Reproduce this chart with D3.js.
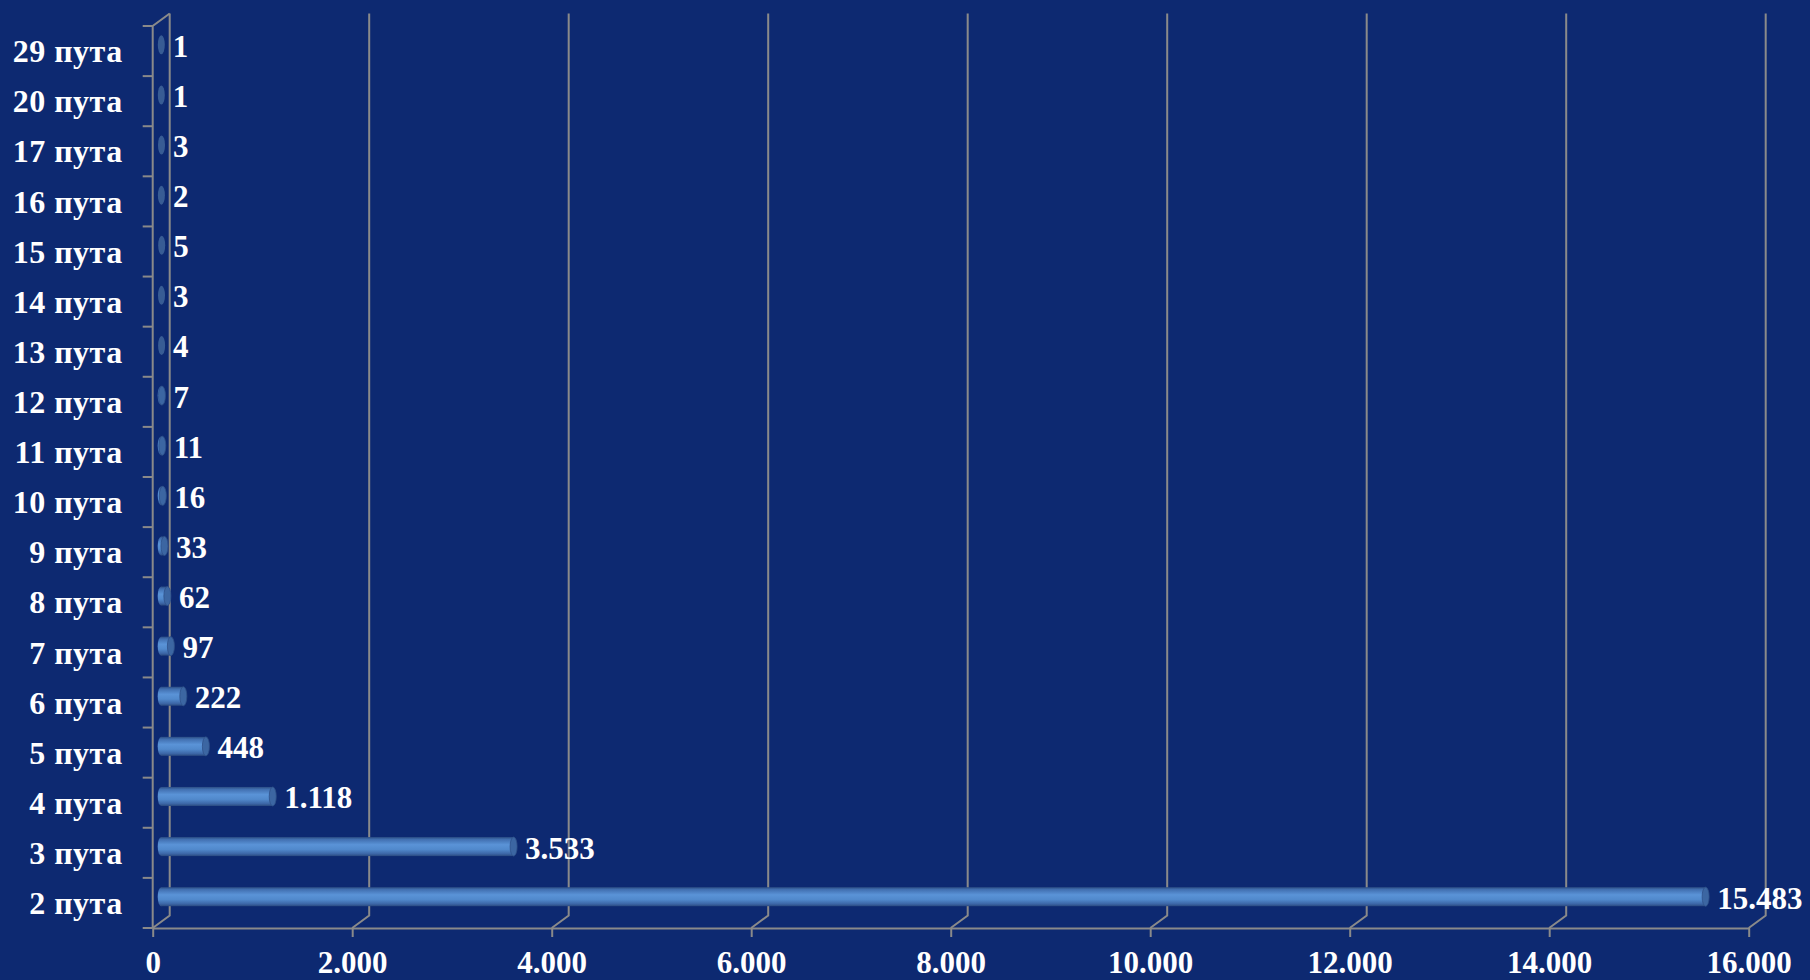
<!DOCTYPE html>
<html><head><meta charset="utf-8">
<script src="https://cdn.jsdelivr.net/npm/d3@7"></script>
<style>
html,body{margin:0;padding:0;background:#0d2971;}
svg{display:block;}
text{font-family:"Liberation Serif","Times New Roman",serif;font-weight:bold;fill:#fff;}
</style></head>
<body>
<svg id="chart" width="1810" height="980"></svg>
<script>
const categories = ["29 пута","20 пута","17 пута","16 пута","15 пута","14 пута","13 пута","12 пута","11 пута","10 пута","9 пута","8 пута","7 пута","6 пута","5 пута","4 пута","3 пута","2 пута"];
const values = [1,1,3,2,5,3,4,7,11,16,33,62,97,222,448,1118,3533,15483];
const xTicks = [0,2000,4000,6000,8000,10000,12000,14000,16000];

const W = 1810, H = 980;
const x0 = 152.7, x1 = 1748.7, yTop = 26, yBot = 928;
const dx = 17, dy = -12.5;
const gridColor = "#8a8a8a";

const svg = d3.select("#chart");
svg.append("rect").attr("width", W).attr("height", H).attr("fill", "#0d2971");

const loc = d3.formatLocale({decimal:",", thousands:".", grouping:[3], currency:["",""]});
const fmt = loc.format(",d");

const x = d3.scaleLinear().domain([0,16000]).range([x0, x1]);
const y = d3.scaleBand().domain(categories).range([yTop, yBot]).padding(0);

const defs = svg.append("defs");
const g1 = defs.append("linearGradient").attr("id","body").attr("x1",0).attr("y1",0).attr("x2",0).attr("y2",1);
[["0%","#2b4d85"],["12%","#416fb0"],["40%","#5a93d7"],["65%","#5189cc"],["88%","#3c66a6"],["100%","#2a4a80"]]
  .forEach(([o,c]) => g1.append("stop").attr("offset",o).attr("stop-color",c));

// grid: back wall lines + floor diagonals
const grid = svg.append("g").attr("stroke", gridColor).attr("stroke-width", 2).attr("fill","none");
xTicks.forEach(t => {
  const xf = x(t);
  grid.append("path").attr("d", `M${xf+dx},${yTop+dy} L${xf+dx},${yBot+dy} L${xf},${yBot}`);
});
// front left axis and top diagonal
grid.append("path").attr("d", `M${x0+dx},${yTop+dy} L${x0},${yTop} L${x0},${yBot}`);
// category boundary ticks
const bounds = categories.map(c => y(c)).concat([yBot]);
bounds.forEach(b => grid.append("line").attr("x1", x0-10).attr("x2", x0).attr("y1", b).attr("y2", b));

// x axis
const xAxis = d3.axisBottom(x).tickValues(xTicks).tickFormat(fmt).tickSize(9).tickSizeOuter(0).tickPadding(14);
const xg = svg.append("g").attr("transform", `translate(0,${yBot})`).call(xAxis);
xg.selectAll("path,line").attr("stroke", gridColor).attr("stroke-width", 2);
xg.selectAll("text").attr("font-size", 31).attr("font-family", null).attr("fill", "#fff");

// y axis labels
const yAxis = d3.axisLeft(y).tickSize(0).tickPadding(30);
const yg = svg.append("g").attr("transform", `translate(${x0},0)`).call(yAxis);
yg.select(".domain").remove();
yg.selectAll("text").attr("font-size", 32).attr("letter-spacing", "0.5px").attr("font-family", null).attr("fill", "#fff").attr("dy", "0.35em");

// bars (cylinders)
const ry = 9.5, rx = 3.5;
const bars = svg.append("g");
categories.forEach((c, i) => {
  const v = values[i];
  const cy = y(c) + y.bandwidth()/2 + dy/2;
  const xs = x(0) + dx/2, xe = x(v) + dx/2;
  const g = bars.append("g");
  if (xe - xs > 0.5) {
    g.append("rect").attr("x", xs).attr("y", cy-ry).attr("width", xe-xs).attr("height", 2*ry).attr("fill","url(#body)");
    g.append("ellipse").attr("cx", xs).attr("cy", cy).attr("rx", rx).attr("ry", ry).attr("fill","url(#body)");
    g.append("ellipse").attr("cx", xe).attr("cy", cy).attr("rx", rx).attr("ry", ry).attr("fill","#3c66a2").attr("stroke","#2f5189").attr("stroke-width",0.8);
  } else {
    g.append("ellipse").attr("cx", xe).attr("cy", cy).attr("rx", rx).attr("ry", ry).attr("fill","#41659a").attr("opacity",0.85);
  }
  svg.append("text").attr("x", xe + rx + 8).attr("y", cy + 12).attr("font-size", 31).text(fmt(v));
});
</script>
</body></html>
